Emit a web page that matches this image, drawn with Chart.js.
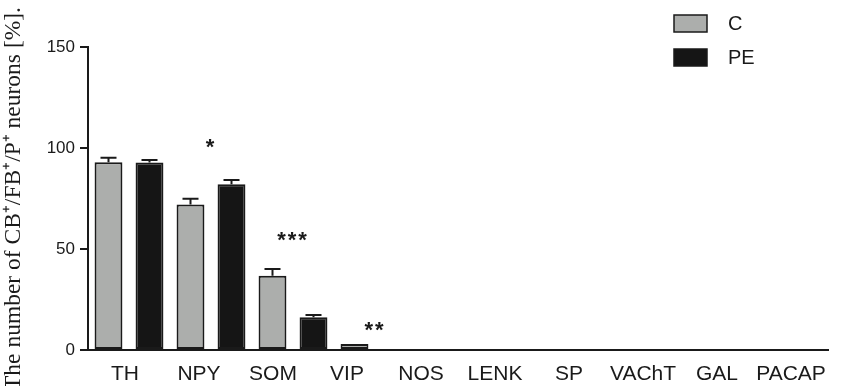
<!DOCTYPE html>
<html>
<head>
<meta charset="utf-8">
<script src="https://cdn.jsdelivr.net/npm/chart.js@4.4.1/dist/chart.umd.min.js"></script>
<style>
  html, body { margin: 0; padding: 0; background: #fff; }
  #wrap { width: 848px; height: 386px; }
</style>
</head>
<body>
<div id="wrap"><canvas id="chart"></canvas></div>
<script>
// values (percent)
const categories = ["TH", "NPY", "SOM", "VIP", "NOS", "LENK", "SP", "VAChT", "GAL", "PACAP"];
const valuesC    = [92.9, 72.0, 36.8, 3.0, 0, 0, 0, 0, 0, 0];
const valuesPE   = [92.8, 82.0, 16.2, 0, 0, 0, 0, 0, 0, 0];
const errorsC    = [2.3, 2.9, 3.3, 0, 0, 0, 0, 0, 0, 0];
const errorsPE   = [1.2, 2.2, 1.1, 0, 0, 0, 0, 0, 0, 0];
const sigMarks   = ["", "*", "***", "**", "", "", "", "", "", ""];
const sigLevels  = [0, 102, 56, 11.5, 0, 0, 0, 0, 0, 0];
const yTicks     = [0, 50, 100, 150];

const INK = "#1a1a1a";

const errorBars = {
  id: "errorBars",
  afterDatasetsDraw(chart) {
    const { ctx, scales: { y } } = chart;
    const errs = [errorsC, errorsPE];
    ctx.save();
    ctx.strokeStyle = INK;
    ctx.lineWidth = 2;
    chart.data.datasets.forEach((ds, d) => {
      const meta = chart.getDatasetMeta(d);
      meta.data.forEach((bar, i) => {
        const e = errs[d][i];
        if (!e) return;
        const top = y.getPixelForValue(ds.data[i].y + e);
        ctx.beginPath();
        ctx.moveTo(bar.x, bar.y);
        ctx.lineTo(bar.x, top);
        ctx.moveTo(bar.x - 8, top);
        ctx.lineTo(bar.x + 8, top);
        ctx.stroke();
      });
    });
    ctx.restore();
  }
};

const extras = {
  id: "extras",
  afterDraw(chart) {
    const { ctx, scales: { y } } = chart;
    const mC = chart.getDatasetMeta(0);
    const mPE = chart.getDatasetMeta(1);
    ctx.save();
    // significance stars
    ctx.fillStyle = INK;
    ctx.font = "bold 22px 'Liberation Sans', Arial, sans-serif";
    ctx.textAlign = "center";
    ctx.textBaseline = "middle";
    ctx.letterSpacing = "2px";
    sigMarks.forEach((s, i) => {
      if (!s) return;
      const x = (mC.data[i].x + mPE.data[i].x) / 2;
      ctx.fillText(s, x, y.getPixelForValue(sigLevels[i]) + 4);
    });
    ctx.letterSpacing = "0px";
    // legend
    ctx.font = "20px 'Liberation Sans', Arial, sans-serif";
    ctx.textAlign = "left";
    chart.data.datasets.forEach((ds, d) => {
      const by = 15 + d * 34;
      ctx.fillStyle = ds.backgroundColor;
      ctx.fillRect(674, by, 33, 17);
      ctx.strokeStyle = INK;
      ctx.lineWidth = 1.5;
      ctx.strokeRect(674, by, 33, 17);
      ctx.fillStyle = INK;
      ctx.fillText(ds.label, 728, by + 9);
    });
    ctx.restore();
  }
};

const toPoints = vals => vals.map((v, i) => ({ x: i + 0.5, y: v }));

new Chart(document.getElementById("chart"), {
  type: "bar",
  data: {
    labels: categories,
    datasets: [
      { label: "C",  data: toPoints(valuesC),  backgroundColor: "#acaeac", borderColor: INK, borderWidth: 2, borderSkipped: false },
      { label: "PE", data: toPoints(valuesPE), backgroundColor: "#151515", borderColor: INK, borderWidth: 2, borderSkipped: false }
    ]
  },
  options: {
    responsive: true,
    maintainAspectRatio: false,
    animation: false,
    events: [],
    layout: { padding: { top: 47, right: 20, left: 0, bottom: 0 } },
    datasets: { bar: { barPercentage: 0.68, categoryPercentage: 1 } },
    plugins: { legend: { display: false }, tooltip: { enabled: false } },
    scales: {
      x: {
        type: "linear",
        min: 0,
        max: 740 / 82,
        offset: false,
        weight: 0,
        afterFit: s => { s.height = 0; },
        grid: { display: false, drawTicks: false },
        ticks: { display: false },
        border: { display: true, color: INK, width: 2 }
      },
      xl: {
        type: "category",
        position: "bottom",
        offset: true,
        weight: 1,
        afterFit: s => { s.height = 36; },
        grid: { display: false, drawTicks: false },
        border: { display: false },
        ticks: {
          color: INK,
          padding: 12,
          maxRotation: 0,
          autoSkip: false,
          font: { family: "'Liberation Sans', Arial, sans-serif", size: 21 }
        }
      },
      y: {
        min: 0,
        max: 150,
        afterBuildTicks: s => { s.ticks = yTicks.map(v => ({ value: v })); },
        afterFit: s => { s.width = 88; },
        grid: { display: true, drawOnChartArea: false, drawTicks: true, tickLength: 8, color: INK, lineWidth: 2 },
        border: { display: true, color: INK, width: 2 },
        ticks: {
          color: INK,
          padding: 5,
          font: { family: "'Liberation Sans', Arial, sans-serif", size: 17 }
        },
        title: {
          display: true,
          text: "The number of CB\u207A/FB\u207A/P\u207A neurons [%].",
          color: INK,
          padding: { top: 0, bottom: 0 },
          font: { family: "'Liberation Serif', 'Times New Roman', serif", size: 23.5 }
        }
      }
    }
  },
  plugins: [errorBars, extras]
});
</script>
</body>
</html>
